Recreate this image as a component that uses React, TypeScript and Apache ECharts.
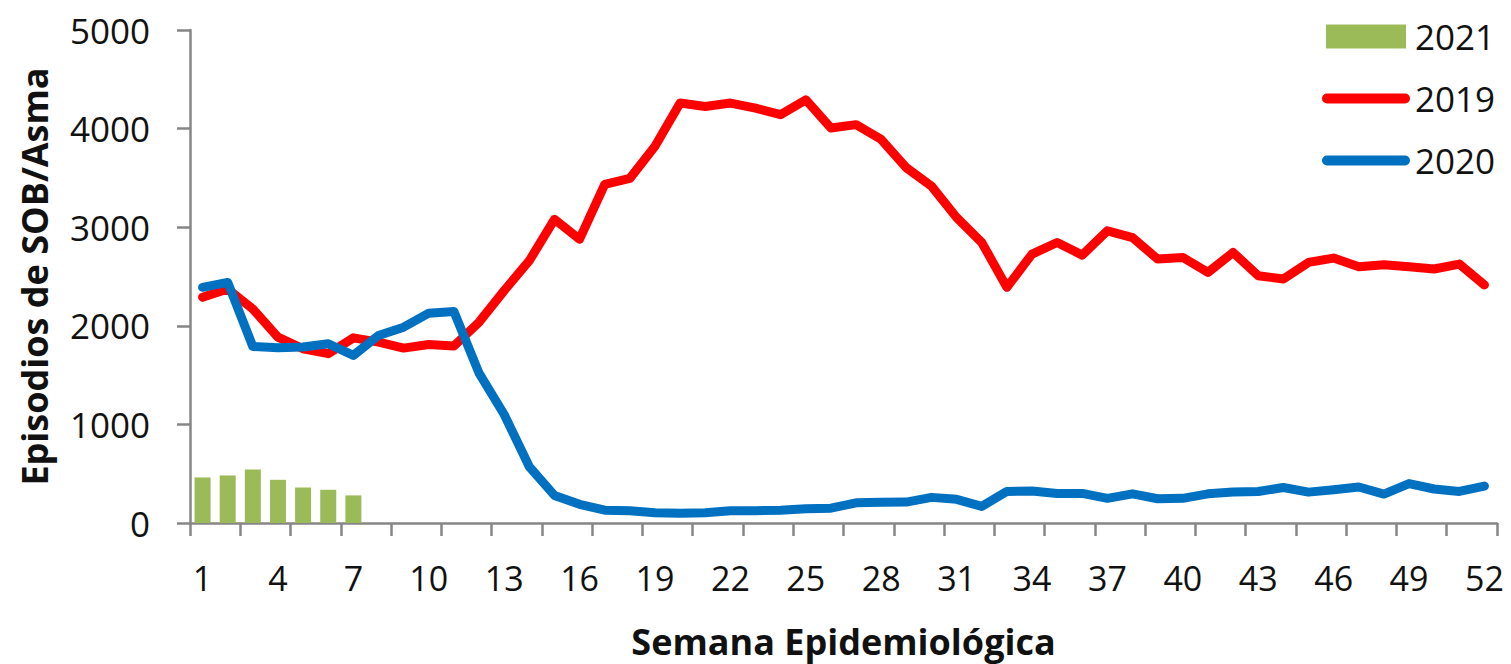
import React, { useEffect, useRef } from "react";
import * as echarts from "echarts";

const weeks: string[] = [
  "1", "2", "3", "4", "5", "6", "7", "8", "9", "10", "11", "12", "13",
  "14", "15", "16", "17", "18", "19", "20", "21", "22", "23", "24", "25", "26",
  "27", "28", "29", "30", "31", "32", "33", "34", "35", "36", "37", "38", "39",
  "40", "41", "42", "43", "44", "45", "46", "47", "48", "49", "50", "51", "52",
];

const values2021: number[] = [462, 482, 542, 438, 360, 337, 280];

const values2019: number[] = [
  2290, 2373, 2171, 1885, 1767, 1717, 1878, 1835, 1774, 1811, 1795, 2037, 2357,
  2660, 3080, 2878, 3434, 3495, 3821, 4259, 4225, 4259, 4208, 4141, 4292, 4006,
  4040, 3890, 3603, 3417, 3098, 2845, 2390, 2727, 2845, 2717, 2963, 2895, 2677,
  2693, 2542, 2744, 2508, 2475, 2643, 2687, 2599, 2619, 2599, 2576, 2626, 2414,
];

const values2020: number[] = [
  2390, 2440, 1790, 1778, 1785, 1818, 1700, 1902, 1986, 2128, 2145, 1520, 1100,
  570, 280, 190, 130, 125, 105, 100, 105, 125, 125, 130, 145, 150,
  205, 210, 212, 260, 240, 168, 320, 325, 300, 300, 250, 296, 246,
  250, 296, 315, 320, 360, 313, 337, 365, 293, 400, 345, 320, 375,
];

const seriesNames: string[] = ["2021", "2019", "2020"];

const FONT = "'Open Sans', 'Noto Sans', sans-serif";
const AXIS_COLOR = "#868686";
const LINE_ICON = "path://M5,0 H83 A5,5 0 0 1 83,10 H5 A5,5 0 0 1 5,0 Z";

export default function App() {
  const ref = useRef<HTMLDivElement>(null);

  useEffect(() => {
    if (!ref.current) return;
    const chart = echarts.init(ref.current, null, { renderer: "svg" });
    chart.setOption({
      animation: false,
      backgroundColor: "#ffffff",
      textStyle: { fontFamily: FONT },
      grid: { left: 190, right: 14, top: 30, bottom: 139, containLabel: false },
      legend: {
        orient: "vertical",
        left: 1322,
        top: 19,
        padding: 0,
        itemWidth: 88,
        itemHeight: 24,
        itemGap: 27,
        data: [
          { name: seriesNames[0], icon: "path://M4,0 H84 V24 H4 Z" },
          { name: seriesNames[1], icon: LINE_ICON },
          { name: seriesNames[2], icon: LINE_ICON },
        ],
        textStyle: {
          fontFamily: FONT,
          fontSize: 35,
          color: "#111",
          lineHeight: 34,
          padding: [0, 0, 0, 0],
        },
        itemStyle: { borderWidth: 0 },
      },
      xAxis: {
        type: "category",
        data: weeks,
        boundaryGap: true,
        name: "Semana Epidemiológica",
        nameLocation: "middle",
        nameGap: 100,
        nameTextStyle: {
          fontFamily: FONT,
          fontSize: 36,
          fontWeight: "bold",
          color: "#111",
        },
        axisLine: { show: true, lineStyle: { color: AXIS_COLOR, width: 2.5 } },
        axisTick: {
          show: true,
          interval: 1,
          length: 13,
          lineStyle: { color: AXIS_COLOR, width: 2.5 },
        },
        axisLabel: {
          interval: 2,
          margin: 38,
          fontFamily: FONT,
          fontSize: 34,
          color: "#111",
        },
        splitLine: { show: false },
      },
      yAxis: {
        type: "value",
        min: 0,
        max: 5000,
        interval: 1000,
        name: "Episodios de SOB/Asma",
        nameLocation: "middle",
        nameGap: 138,
        nameTextStyle: {
          fontFamily: FONT,
          fontSize: 36,
          fontWeight: "bold",
          color: "#111",
        },
        axisLine: { show: true, lineStyle: { color: AXIS_COLOR, width: 2.5 } },
        axisTick: {
          show: true,
          length: 13,
          lineStyle: { color: AXIS_COLOR, width: 2.5 },
        },
        axisLabel: {
          margin: 40,
          fontFamily: FONT,
          fontSize: 35,
          color: "#111",
          formatter: (v: number) => String(v),
        },
        splitLine: { show: false },
      },
      series: [
        {
          name: seriesNames[0],
          type: "bar",
          data: values2021,
          barWidth: 16,
          itemStyle: { color: "#9BBB59" },
          z: 1,
        },
        {
          name: seriesNames[1],
          type: "line",
          data: values2019,
          symbol: "none",
          smooth: false,
          lineStyle: { color: "#FF0000", width: 9, cap: "round", join: "round" },
          itemStyle: { color: "#FF0000" },
          z: 2,
        },
        {
          name: seriesNames[2],
          type: "line",
          data: values2020,
          symbol: "none",
          smooth: false,
          lineStyle: { color: "#0070C0", width: 9, cap: "round", join: "round" },
          itemStyle: { color: "#0070C0" },
          z: 3,
        },
      ],
    });
    return () => {
      chart.dispose();
    };
  }, []);

  return (
    <div
      ref={ref}
      style={{ position: "fixed", left: 0, top: 0, width: 1511, height: 664, background: "#fff" }}
    />
  );
}
